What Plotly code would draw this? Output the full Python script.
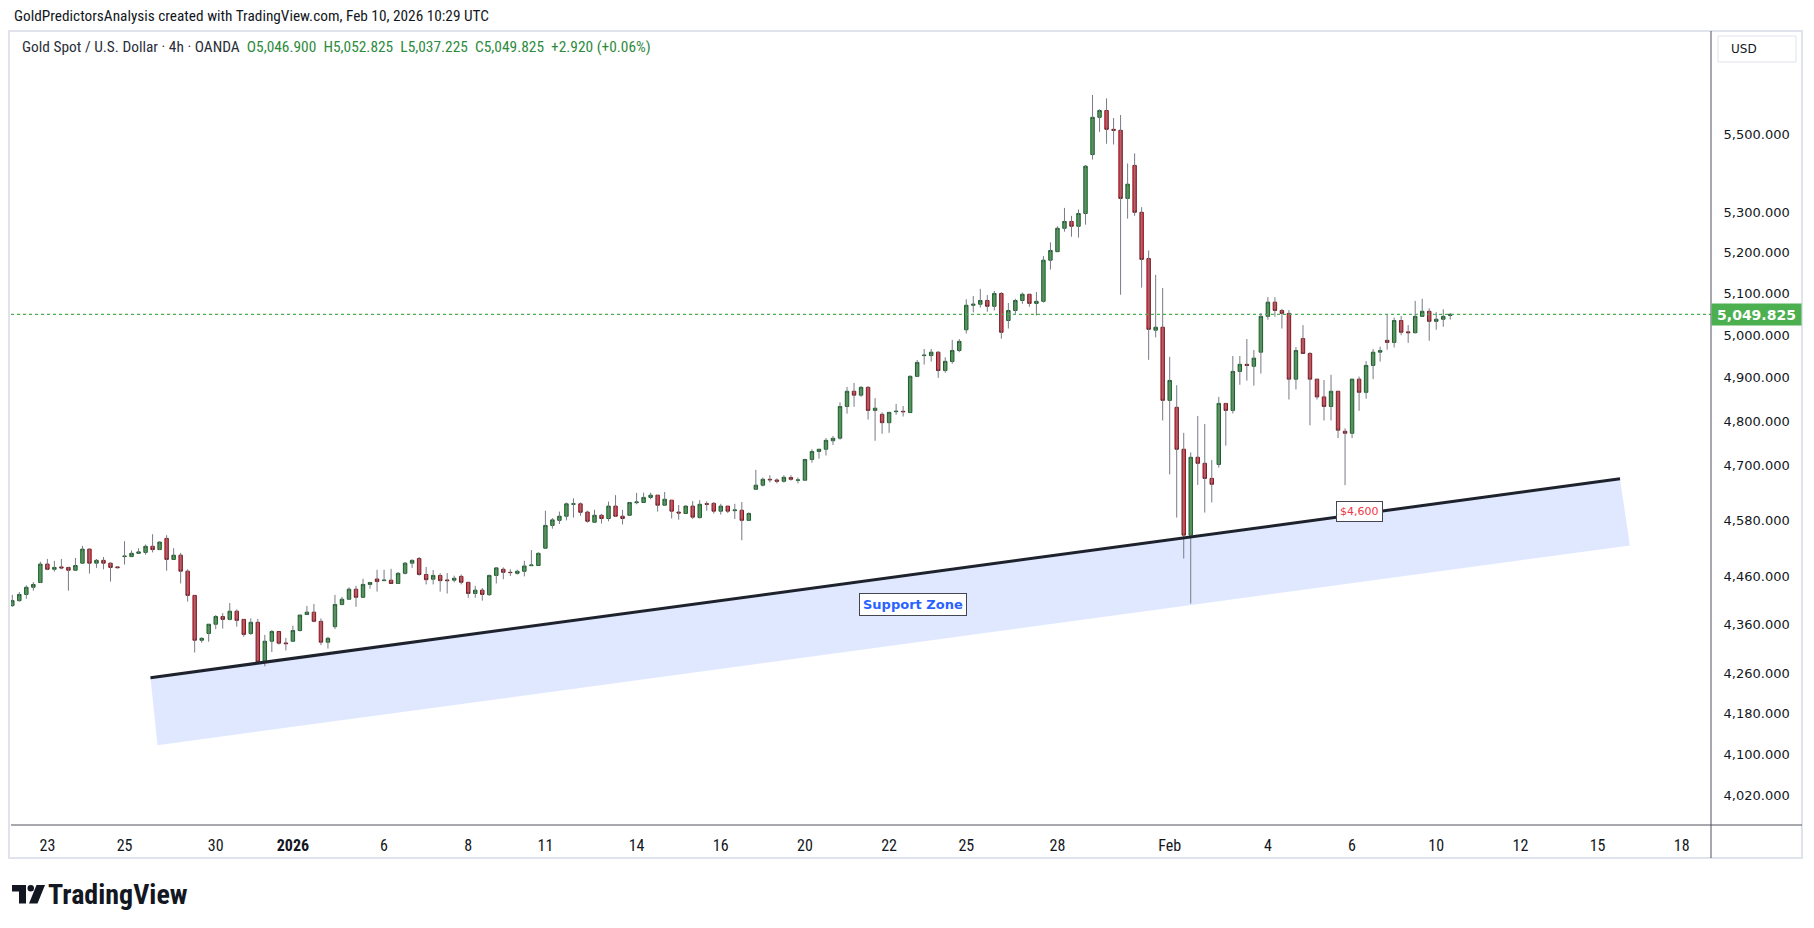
import numpy as np
import plotly.graph_objects as go

# ---------------- data (4h XAUUSD candles) ----------------
opens = [4398.6,4409,4422,4437,4447,4486,4475,4480,4479,4473,4488,4518,4488,4494,4488,4480,4502,4502,4509,4511,
         4524,4517,4541,4496,4505,4471,4420,4327,4341,4360,4376,4370,4387,4370,4341,4364,4283,4325,4345,4321.5,
         4325,4347,4380,4385,4366,4323,4355,4401,4412,4433,4416,4443,4454.5,4451,4452,4445,4466.5,4488,4498,4464,
         4454,4462,4452.4,4452,4460,4447.5,4424,4431,4421.5,4462,4475,4468.6,4466.5,4470.7,4482.7,4483,4520,4569,4580,4589,
         4615,4616,4598,4576,4591,4584,4611,4589,4591,4618.6,4619,4630,4635,4613,4624,4598,4595,4611,4586,4616.4,
         4617,4600,4611,4601,4602,4580,4648,4657,4670,4668.5,4665.6,4674,4668,4668,4714,4732,4737,4756,4762,4834,
         4869,4860,4878,4825,4816,4797,4822,4823,4820,4903.5,4952,4952,4960,4917,4938,4964,5013,5071.5,5074,5083,
         5069,5100,5035,5059,5083,5098,5076,5081,5181,5202,5260,5277,5265,5297,5447,5544,5562,5512.5,5510,5335,
         5419,5300,5185,5012,5019,4848,4832,4737,4548,4719,4705.5,4672,4703,4841,4825,4915,4931.5,4927,4960,5045,
         5079,5059,5052,4897,4992,4957,4897,4856,4834,4869,4777.5,4773,4897,4866.5,4929,4960,4988,4983,5035,5008,
         5006,5045,5057,5033,5038,5046.9]
highs = [4421,4427,4441,4448,4491,4497,4493,4497,4480,4499,4525,4519,4497,4501,4489,4482,4535,4515,4520,4528,
         4550,4535,4548,4520,4510,4475,4420,4333,4360,4379,4383,4404,4391,4370,4372,4371,4338,4348,4345,4332,
         4357,4379,4398,4402,4372,4334,4421,4417,4437,4440,4455,4448,4474,4474,4476,4469,4490.5,4496,4501,4480,
         4473.5,4466.5,4467,4461.5,4464,4447.5,4440,4435.5,4463.6,4479,4479,4475,4474,4493,4516,4511,4601,4585,4599,4619,
         4628,4619,4601,4603,4594,4621,4635,4603,4620,4640,4640.5,4640.5,4635,4642,4624,4613.5,4613,4622,4624,4621.5,
         4620,4616,4611,4616,4620,4597.5,4691,4674,4679,4672,4679,4679,4674,4716,4737,4737,4762,4767,4843.5,4879,
         4888,4881,4881,4853,4820.6,4821,4840,4835,4906,4941.6,4967.5,4967.5,4962,4948,4989,4991,5086,5094,5111,5096,
         5106,5103,5077,5087,5102,5099,5103.5,5191,5225,5265,5311,5291,5307,5420,5603,5565,5594,5542,5550,5424,
         5450,5313,5205,5145,5113,4949,4883,4774,4730,4812,4794,4713,4856,4842,4951,4951,4991,4965,5053,5091,
         5091,5063,5060,4972,5024,4960,4897,4895,4907,4869,4784,4897,4903,4939,4967.5,4973,5049,5042,5046,5024,
         5082,5087,5064,5055,5062,5052.825]
lows = [4396,4407,4413,4430,4446,4473,4470,4475,4430,4472,4487,4466,4478,4475,4449,4477,4485,4502,4509,4506,
        4511,4516,4472,4496,4445,4407,4302,4322,4324,4350,4351,4368,4355,4334,4338,4280,4274,4303,4318,4306,
        4324,4345,4379,4364,4317,4310,4350,4399,4412,4396,4416,4434,4428,4450,4445,4444,4464,4478,4461.5,4443,
        4443,4428,4424,4447.5,4443,4415,4415,4409,4419,4445,4454,4461,4463.6,4460,4482,4483,4520,4562,4572,4580,
        4586,4590,4575,4576,4573,4578,4589,4571,4590,4615,4619,4626,4599,4612,4584,4581.5,4595,4583,4584,4601,
        4595,4592.5,4596,4583,4537,4580,4647,4654,4663,4661,4662.6,4667,4661,4667,4707,4716,4723,4746.5,4758.6,4817.5,
        4833.5,4856,4804,4756,4772,4774,4815,4811,4820,4903,4931,4938,4900,4912,4933,4960,5004,5054.5,5066,5056,
        5059,4992,5016,5051,5075,5068,5047,5078,5158,5202,5251.5,5239,5237,5269,5434,5506,5475,5473,5097,5284,
        5291,5114,4942,4995,4802,4681,4586,4498,4403,4657.5,4597,4619,4696,4745,4818,4884,4893.5,4882,4910,5037,
        5044,5016,4850,4873,4957,4791,4850,4802,4802,4762,4657,4762,4824,4852,4897,4938,4966,4971,5000,4982,
        5004,5045,4987,5013,5020,5037.225]
closes = [4409,4422,4437,4443,4486,4475,4479,4478,4473,4483,4518,4488,4494,4488,4479,4478.5,4503,4509,4512,4524,
          4517,4533,4496,4505,4471,4420,4327,4331,4360,4376,4370,4387,4368,4339,4364,4283,4325,4345,4321,4320,
          4347,4379,4385,4366,4323,4331,4401,4412,4433,4416,4443,4447,4449,4452,4445,4466.5,4488,4494,4464,4453,
          4462,4451,4451,4456,4447.5,4424,4431,4422,4462,4478,4468.6,4468,4470.7,4482,4484,4509,4569,4581,4589,4616,
          4616,4597.5,4578,4591,4584,4611,4589,4584,4619,4620,4630,4635,4613,4626,4600,4596,4611,4587,4615,4615,
          4600,4611,4600,4602.6,4580,4595,4657,4670,4669,4665.6,4674.4,4670,4668.5,4714,4732,4737,4757,4761.6,4834,4869,
          4860,4878,4825,4830,4797,4820.6,4823,4822,4903.5,4936,4953,4960,4917,4938.5,4964,4985.5,5071.5,5074,5083,5069,
          5100,5007,5059,5083,5098,5076,5081,5181,5205,5260,5277,5265,5297,5417,5544,5562,5512.5,5510,5335,5371,
          5300,5183,5014,5019,4848,4894,4737,4548,4719,4705.5,4672,4659,4841,4825,4915,4931.5,4929,4946,5045,5079,
          5059,5052,4897,4964,4957,4897,4856,4834,4869,4780,4773,4897,4866.5,4929,4960,4964,4983,5035,5007,5006,
          5045,5057,5033,5038,5045,5049.825]

# time-axis labels (bar index of the first bar of each labelled day)
tick_bars = [5, 16, 29, 40, 53, 65, 76, 89, 101, 113, 125, 136, 149, 165, 179, 191, 203, 215, 226, 238]
tick_text = ["23", "25", "30", "<b>2026</b>", "6", "8", "11", "14", "16", "20", "22", "25", "28",
             "Feb", "4", "6", "10", "12", "15", "18"]
price_ticks = [5500, 5300, 5200, 5100, 5000, 4900, 4800, 4700, 4580, 4460, 4360, 4260, 4180, 4100, 4020]

# legend values
change_abs = 2.920
change_pct = 0.06

# drawings on the chart
support_line_bars = [19.7, 229.2]
support_line_prices = [4251, 4671]
zone_bottom_bars = [230.6, 20.7]
zone_bottom_prices = [4526, 4117]
zone_label_bar, zone_label_price = 128.4, 4401
level_label_bar, level_label_price = 192.1, 4600

# ---------------- layout helpers ----------------
W, H = 1814, 928
L, R, T, B = 11, 1711, 31, 825          # plot area in pixels


def px(x):
    return (x - L) / (R - L)


def py(y):
    return (B - y) / (B - T)


n = len(opens)
bars = list(range(n))
body_hi = [max(o, c) for o, c in zip(opens, closes)]
body_lo = [min(o, c) for o, c in zip(opens, closes)]

wick_x, wick_y = [], []
for i in bars:
    wick_x += [i, i, None]
    wick_y += [lows[i], highs[i], None]

x_range = [-0.185, 242.17]
y_range = [3.59816, 3.76159]

fig = go.Figure()

# support zone (rotated rectangle)
zx = support_line_bars + zone_bottom_bars + [support_line_bars[0]]
zy = support_line_prices + zone_bottom_prices + [support_line_prices[0]]
fig.add_trace(go.Scatter(x=zx, y=zy, mode="lines", fill="toself",
                         fillcolor="rgba(41,98,255,0.15)", line=dict(width=0),
                         hoverinfo="skip", showlegend=False))

# last price dotted line
fig.add_trace(go.Scatter(x=x_range, y=[closes[-1], closes[-1]], mode="lines",
                         line=dict(color="#4caf50", width=1.2, dash="dot"),
                         hoverinfo="skip", showlegend=False))

# wicks
fig.add_trace(go.Scatter(x=wick_x, y=wick_y, mode="lines",
                         line=dict(color="#787b86", width=1),
                         hoverinfo="skip", showlegend=False))

# bodies
fig.add_trace(go.Candlestick(
    x=bars, open=opens, close=closes, high=body_hi, low=body_lo,
    increasing=dict(fillcolor="#43a047", line=dict(color="#1b5e2a", width=1)),
    decreasing=dict(fillcolor="#f23645", line=dict(color="#7a1c22", width=1)),
    whiskerwidth=0, showlegend=False, hoverinfo="skip"))

# support trend line
fig.add_trace(go.Scatter(x=support_line_bars, y=support_line_prices, mode="lines",
                         line=dict(color="#1e222d", width=3),
                         hoverinfo="skip", showlegend=False))

NARROW = "Liberation Sans Narrow, Arial Narrow, Roboto Condensed, sans-serif"
DEJAVU = "DejaVu Sans, Verdana, sans-serif"

shapes = []
# outer frame
shapes.append(dict(type="rect", xref="paper", yref="paper", x0=px(9), x1=px(1802), y0=py(858), y1=py(31),
                   line=dict(color="#e0e3eb", width=2), layer="below"))
# time axis line and price axis separator
shapes.append(dict(type="line", xref="paper", yref="paper", x0=px(L), x1=px(1802), y0=py(B), y1=py(B),
                   line=dict(color="#50535e", width=1)))
shapes.append(dict(type="line", xref="paper", yref="paper", x0=px(R), x1=px(R), y0=py(858), y1=py(31),
                   line=dict(color="#50535e", width=1)))
# USD button
shapes.append(dict(type="rect", xref="paper", yref="paper", x0=px(1718), x1=px(1796), y0=py(62), y1=py(36),
                   line=dict(color="#e0e3eb", width=1), fillcolor="white"))
# TradingView logo glyph
black = "#131722"


def poly(points):
    d = "M " + " L ".join(f"{px(x):.5f},{py(y):.5f}" for x, y in points) + " Z"
    return dict(type="path", xref="paper", yref="paper", path=d, fillcolor=black, line=dict(width=0))


shapes.append(poly([(12, 885), (26, 885), (26, 903.5), (19, 903.5), (19, 891.5), (12, 891.5)]))
shapes.append(dict(type="circle", xref="paper", yref="paper", x0=px(27.5), x1=px(34), y0=py(891.5), y1=py(885),
                   fillcolor=black, line=dict(width=0)))
shapes.append(poly([(36.5, 885), (45, 885), (37.5, 903.5), (29, 903.5)]))

annotations = []
annotations.append(dict(xref="paper", yref="paper", x=px(12), y=py(16), xanchor="left", yanchor="middle",
                        text="GoldPredictorsAnalysis created with TradingView.com, Feb 10, 2026 10:29 UTC",
                        showarrow=False, font=dict(family=NARROW, size=15.3, color="#131722")))
nb = "\u00a0"
g = "#2e8b3e"
legend_text = (f"<span style='color:#2a2e39'>Gold Spot / U.S. Dollar · 4h · OANDA</span>{nb*2}"
               f"<span style='color:{g}'>O{opens[-1]:,.3f}</span>{nb*2}"
               f"<span style='color:{g}'>H{highs[-1]:,.3f}</span>{nb*2}"
               f"<span style='color:{g}'>L{lows[-1]:,.3f}</span>{nb*2}"
               f"<span style='color:{g}'>C{closes[-1]:,.3f}</span>{nb*2}"
               f"<span style='color:{g}'>{change_abs:+.3f} ({change_pct:+.2f}%)</span>")
annotations.append(dict(xref="paper", yref="paper", x=px(20), y=py(47), xanchor="left", yanchor="middle",
                        text=legend_text, showarrow=False, font=dict(family=NARROW, size=15.4)))
annotations.append(dict(xref="paper", yref="paper", x=px(1729), y=py(49), xanchor="left", yanchor="middle",
                        text="USD", showarrow=False, font=dict(family=DEJAVU, size=12, color="#131722")))
annotations.append(dict(xref="paper", yref="y", x=1.0, y=np.log10(closes[-1]), xanchor="left", yanchor="middle",
                        text=f"<b>{closes[-1]:,.3f}</b>", showarrow=False, bgcolor="#4caf50",
                        width=85, height=17, borderpad=2, align="center",
                        font=dict(family=DEJAVU, size=14, color="white")))
annotations.append(dict(xref="x", yref="y", x=zone_label_bar, y=np.log10(zone_label_price),
                        text="<b>Support Zone</b>", showarrow=False, bgcolor="white",
                        bordercolor="#434651", borderwidth=1, borderpad=3,
                        font=dict(family=DEJAVU, size=13, color="#2962ff")))
annotations.append(dict(xref="x", yref="y", x=level_label_bar, y=np.log10(level_label_price),
                        text=f"${level_label_price:,}", showarrow=False, bgcolor="white",
                        bordercolor="#434651", borderwidth=1, borderpad=3,
                        font=dict(family=DEJAVU, size=11, color="#f23645")))
annotations.append(dict(xref="paper", yref="paper", x=px(46), y=py(894), xanchor="left", yanchor="middle",
                        text="<b>TradingView</b>", showarrow=False,
                        font=dict(family=NARROW, size=28, color="#131722")))

fig.update_layout(
    width=W, height=H,
    margin=dict(l=L, r=W - R, t=T, b=H - B, pad=0),
    paper_bgcolor="white", plot_bgcolor="white",
    showlegend=False,
    shapes=shapes, annotations=annotations,
    xaxis=dict(range=x_range, tickmode="array", tickvals=tick_bars, ticktext=tick_text,
               showgrid=False, zeroline=False, showline=False, rangeslider=dict(visible=False),
               ticks="outside", ticklen=6, tickcolor="rgba(0,0,0,0)",
               tickfont=dict(family=NARROW, size=16, color="#131722"), fixedrange=True),
    yaxis=dict(type="log", range=y_range, side="right", tickmode="array", tickvals=price_ticks,
               ticktext=[f"{v:,.3f}" for v in price_ticks], showgrid=False, zeroline=False, showline=False,
               ticks="outside", ticklen=9, tickcolor="rgba(0,0,0,0)",
               tickfont=dict(family=DEJAVU, size=13, color="#131722"), fixedrange=True),
)

fig.write_html("out.html")
